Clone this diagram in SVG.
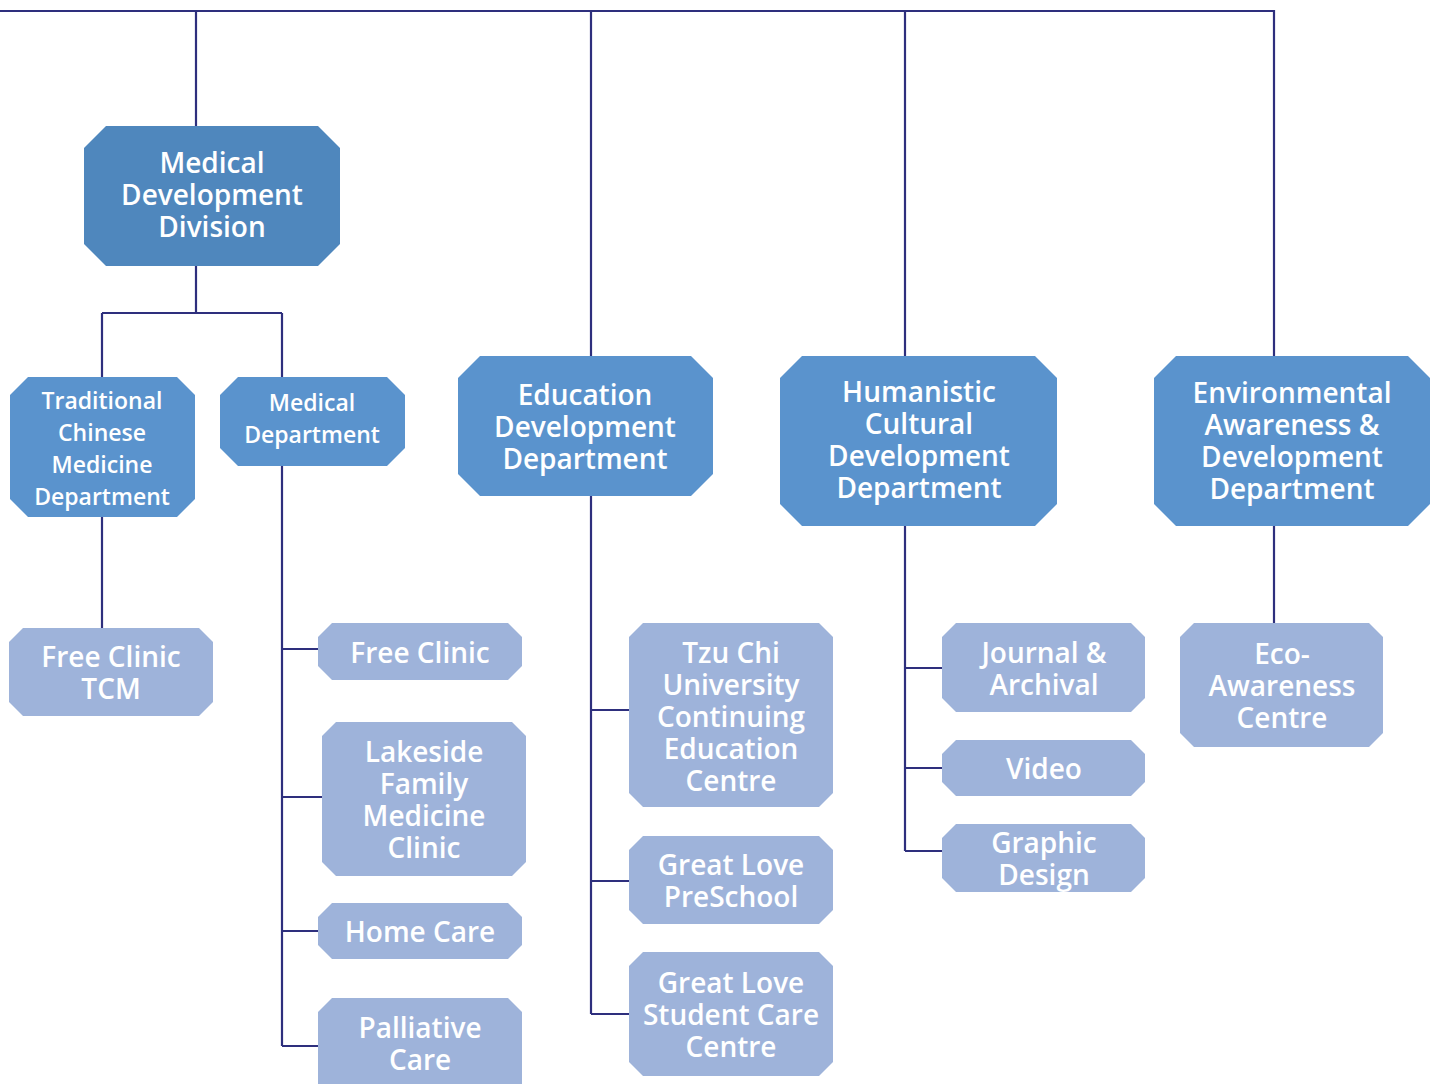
<svg xmlns="http://www.w3.org/2000/svg" width="1440" height="1084" viewBox="0 0 1440 1084">
<style>
.c{fill:none;stroke:#2e2f7d;stroke-width:2.2}
.d{fill:#5a93cd}
.d0{fill:#4f87bd}
.l{fill:#9eb3da}
text{font-family:"Open Sans","Noto Sans",sans-serif;font-weight:600;fill:#fff;text-anchor:middle;dominant-baseline:central}
.t28{font-size:28px}
.t24{font-size:23px}
</style>
<rect width="1440" height="1084" fill="#fff"/>
<g id="connectors" class="c">
<path d="M0 11H1274V356M196 11V126M591 11V356M905 11V356"/>
<path d="M196 266V313M102 313H282M102 313V377M282 313V377"/>
<path d="M102 517V628"/>
<path d="M282 466V1046M282 649H318M282 797H322M282 931H318M282 1046H318"/>
<path d="M591 496V1014M591 710H629M591 881H629M591 1014H629"/>
<path d="M905 526V851M905 668H942M905 768H942M905 851H942"/>
<path d="M1274 526V623"/>
</g>
<g id="medical-development-division">
<polygon class="d0" points="106,126 318,126 340,148 340,244 318,266 106,266 84,244 84,148"/>
<text class="t28" x="212" y="162">Medical</text>
<text class="t28" x="212" y="194">Development</text>
<text class="t28" x="212" y="226">Division</text>
</g>
<g id="tcm-department">
<polygon class="d" points="28,377 177,377 195,395 195,499 177,517 28,517 10,499 10,395"/>
<text class="t24" x="102" y="400">Traditional</text>
<text class="t24" x="102" y="432">Chinese</text>
<text class="t24" x="102" y="464">Medicine</text>
<text class="t24" x="102" y="496">Department</text>
</g>
<g id="medical-department">
<polygon class="d" points="238,377 387,377 405,395 405,448 387,466 238,466 220,448 220,395"/>
<text class="t24" x="312" y="402">Medical</text>
<text class="t24" x="312" y="434">Department</text>
</g>
<g id="free-clinic-tcm">
<polygon class="l" points="23,628 199,628 213,642 213,702 199,716 23,716 9,702 9,642"/>
<text class="t28" x="111" y="656">Free Clinic</text>
<text class="t28" x="111" y="688">TCM</text>
</g>
<g id="free-clinic">
<polygon class="l" points="332,623 508,623 522,637 522,666 508,680 332,680 318,666 318,637"/>
<text class="t28" x="420" y="652">Free Clinic</text>
</g>
<g id="lakeside">
<polygon class="l" points="336,722 512,722 526,736 526,862 512,876 336,876 322,862 322,736"/>
<text class="t28" x="424" y="751">Lakeside</text>
<text class="t28" x="424" y="783">Family</text>
<text class="t28" x="424" y="815">Medicine</text>
<text class="t28" x="424" y="847">Clinic</text>
</g>
<g id="home-care">
<polygon class="l" points="332,903 508,903 522,917 522,945 508,959 332,959 318,945 318,917"/>
<text class="t28" x="420" y="931">Home Care</text>
</g>
<g id="palliative-care">
<polygon class="l" points="332,998 508,998 522,1012 522,1084 318,1084 318,1012"/>
<text class="t28" x="420" y="1027">Palliative</text>
<text class="t28" x="420" y="1059">Care</text>
</g>
<g id="education-development-department">
<polygon class="d" points="480,356 691,356 713,378 713,474 691,496 480,496 458,474 458,378"/>
<text class="t28" x="585" y="394">Education</text>
<text class="t28" x="585" y="426">Development</text>
<text class="t28" x="585" y="458">Department</text>
</g>
<g id="tzu-chi">
<polygon class="l" points="643,623 819,623 833,637 833,793 819,807 643,807 629,793 629,637"/>
<text class="t28" x="731" y="652">Tzu Chi</text>
<text class="t28" x="731" y="684">University</text>
<text class="t28" x="731" y="716">Continuing</text>
<text class="t28" x="731" y="748">Education</text>
<text class="t28" x="731" y="780">Centre</text>
</g>
<g id="great-love-preschool">
<polygon class="l" points="643,836 819,836 833,850 833,910 819,924 643,924 629,910 629,850"/>
<text class="t28" x="731" y="864">Great Love</text>
<text class="t28" x="731" y="896">PreSchool</text>
</g>
<g id="great-love-student-care">
<polygon class="l" points="643,952 819,952 833,966 833,1062 819,1076 643,1076 629,1062 629,966"/>
<text class="t28" x="731" y="982">Great Love</text>
<text class="t28" x="731" y="1014">Student Care</text>
<text class="t28" x="731" y="1046">Centre</text>
</g>
<g id="humanistic-cultural-development-department">
<polygon class="d" points="802,356 1035,356 1057,378 1057,504 1035,526 802,526 780,504 780,378"/>
<text class="t28" x="919" y="391">Humanistic</text>
<text class="t28" x="919" y="423">Cultural</text>
<text class="t28" x="919" y="455">Development</text>
<text class="t28" x="919" y="487">Department</text>
</g>
<g id="journal-archival">
<polygon class="l" points="956,623 1131,623 1145,637 1145,698 1131,712 956,712 942,698 942,637"/>
<text class="t28" x="1044" y="652">Journal &amp;</text>
<text class="t28" x="1044" y="684">Archival</text>
</g>
<g id="video">
<polygon class="l" points="956,740 1131,740 1145,754 1145,782 1131,796 956,796 942,782 942,754"/>
<text class="t28" x="1044" y="768">Video</text>
</g>
<g id="graphic-design">
<polygon class="l" points="956,824 1131,824 1145,838 1145,878 1131,892 956,892 942,878 942,838"/>
<text class="t28" x="1044" y="842">Graphic</text>
<text class="t28" x="1044" y="874">Design</text>
</g>
<g id="environmental-awareness-development-department">
<polygon class="d" points="1176,356 1408,356 1430,378 1430,504 1408,526 1176,526 1154,504 1154,378"/>
<text class="t28" x="1292" y="392">Environmental</text>
<text class="t28" x="1292" y="424">Awareness &amp;</text>
<text class="t28" x="1292" y="456">Development</text>
<text class="t28" x="1292" y="488">Department</text>
</g>
<g id="eco-awareness-centre">
<polygon class="l" points="1194,623 1369,623 1383,637 1383,733 1369,747 1194,747 1180,733 1180,637"/>
<text class="t28" x="1282" y="653">Eco-</text>
<text class="t28" x="1282" y="685">Awareness</text>
<text class="t28" x="1282" y="717">Centre</text>
</g>
</svg>
